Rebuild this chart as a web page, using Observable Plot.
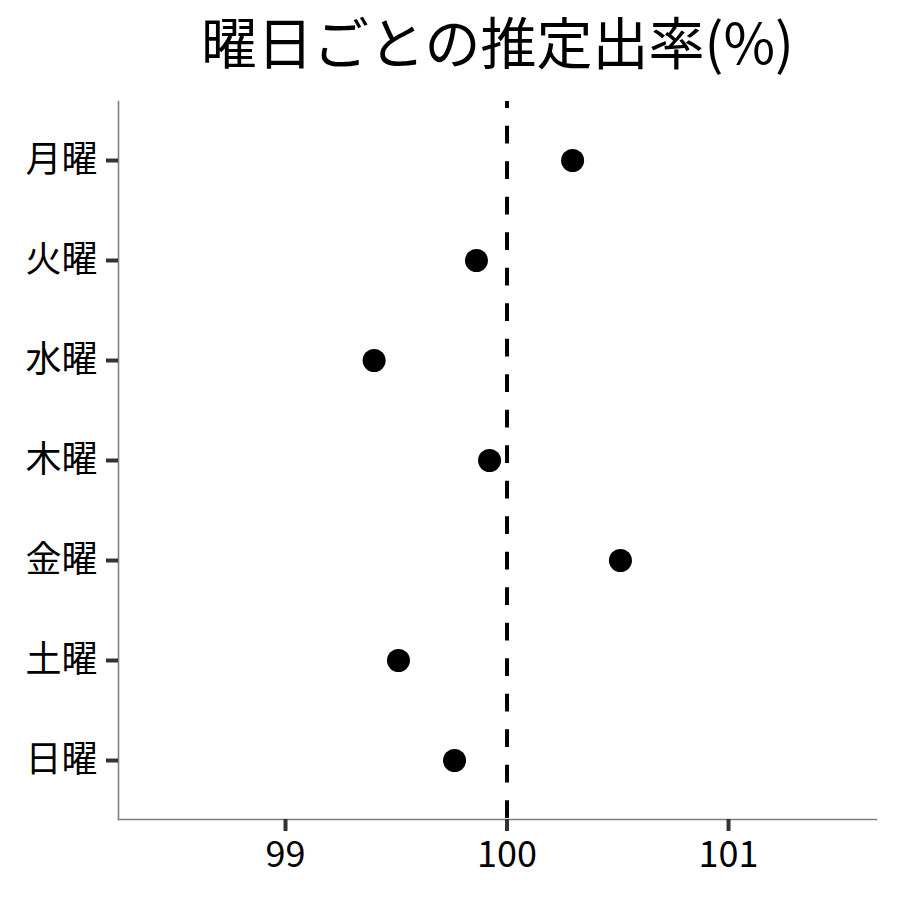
<!DOCTYPE html>
<html><head><meta charset="utf-8">
<script src="https://cdn.jsdelivr.net/npm/d3@7"></script>
<script src="https://cdn.jsdelivr.net/npm/@observablehq/plot@0.6"></script>
<style>body{margin:0;background:#fff}</style>
</head><body><div id="chart"></div>
<script>
const days = ["月曜","火曜","水曜","木曜","金曜","土曜","日曜"];
const rates = [100.296, 99.862, 99.40, 99.921, 100.512, 99.51, 99.763];
const xTicks = [99, 100, 101];
const xDomain = [98.246, 101.668];
const refValue = 100;
const title = "曜日ごとの推定出率(%)";

const data = days.map((d, i) => ({day: d, rate: rates[i]}));

const chart = Plot.plot({
  width: 900, height: 900,
  marginLeft: 118, marginRight: 24, marginTop: 101, marginBottom: 81,
  style: {fontFamily: '"Noto Sans CJK JP", sans-serif', background: "#fff", color: "#000"},
  x: {domain: xDomain},
  y: {type: "point", domain: days, padding: 0.59, round: false},
  marks: [
    Plot.frame({anchor: "left", stroke: "#808080", strokeWidth: 1.6}),
    Plot.frame({anchor: "bottom", stroke: "#808080", strokeWidth: 1.6}),
    Plot.axisX({ticks: xTicks, tickFormat: "d", tickSize: 12, tickPadding: 10, fontSize: 36, stroke: "#333", strokeWidth: 4, label: null}),
    Plot.axisY({tickSize: 12, tickPadding: 9, fontSize: 36, stroke: "#333", strokeWidth: 4, label: null}),
    Plot.ruleX([refValue], {stroke: "#000", strokeWidth: 4, strokeDasharray: "17.75,17.75", strokeDashoffset: 10.75}),
    Plot.dot(data, {x: "rate", y: "day", r: 11.5, fill: "#000", stroke: "none"}),
    Plot.text([title], {frameAnchor: "top", dy: -55, fontSize: 56, lineAnchor: "middle", fill: "#000"})
  ]
});
document.getElementById("chart").appendChild(chart);
</script>
</body></html>
